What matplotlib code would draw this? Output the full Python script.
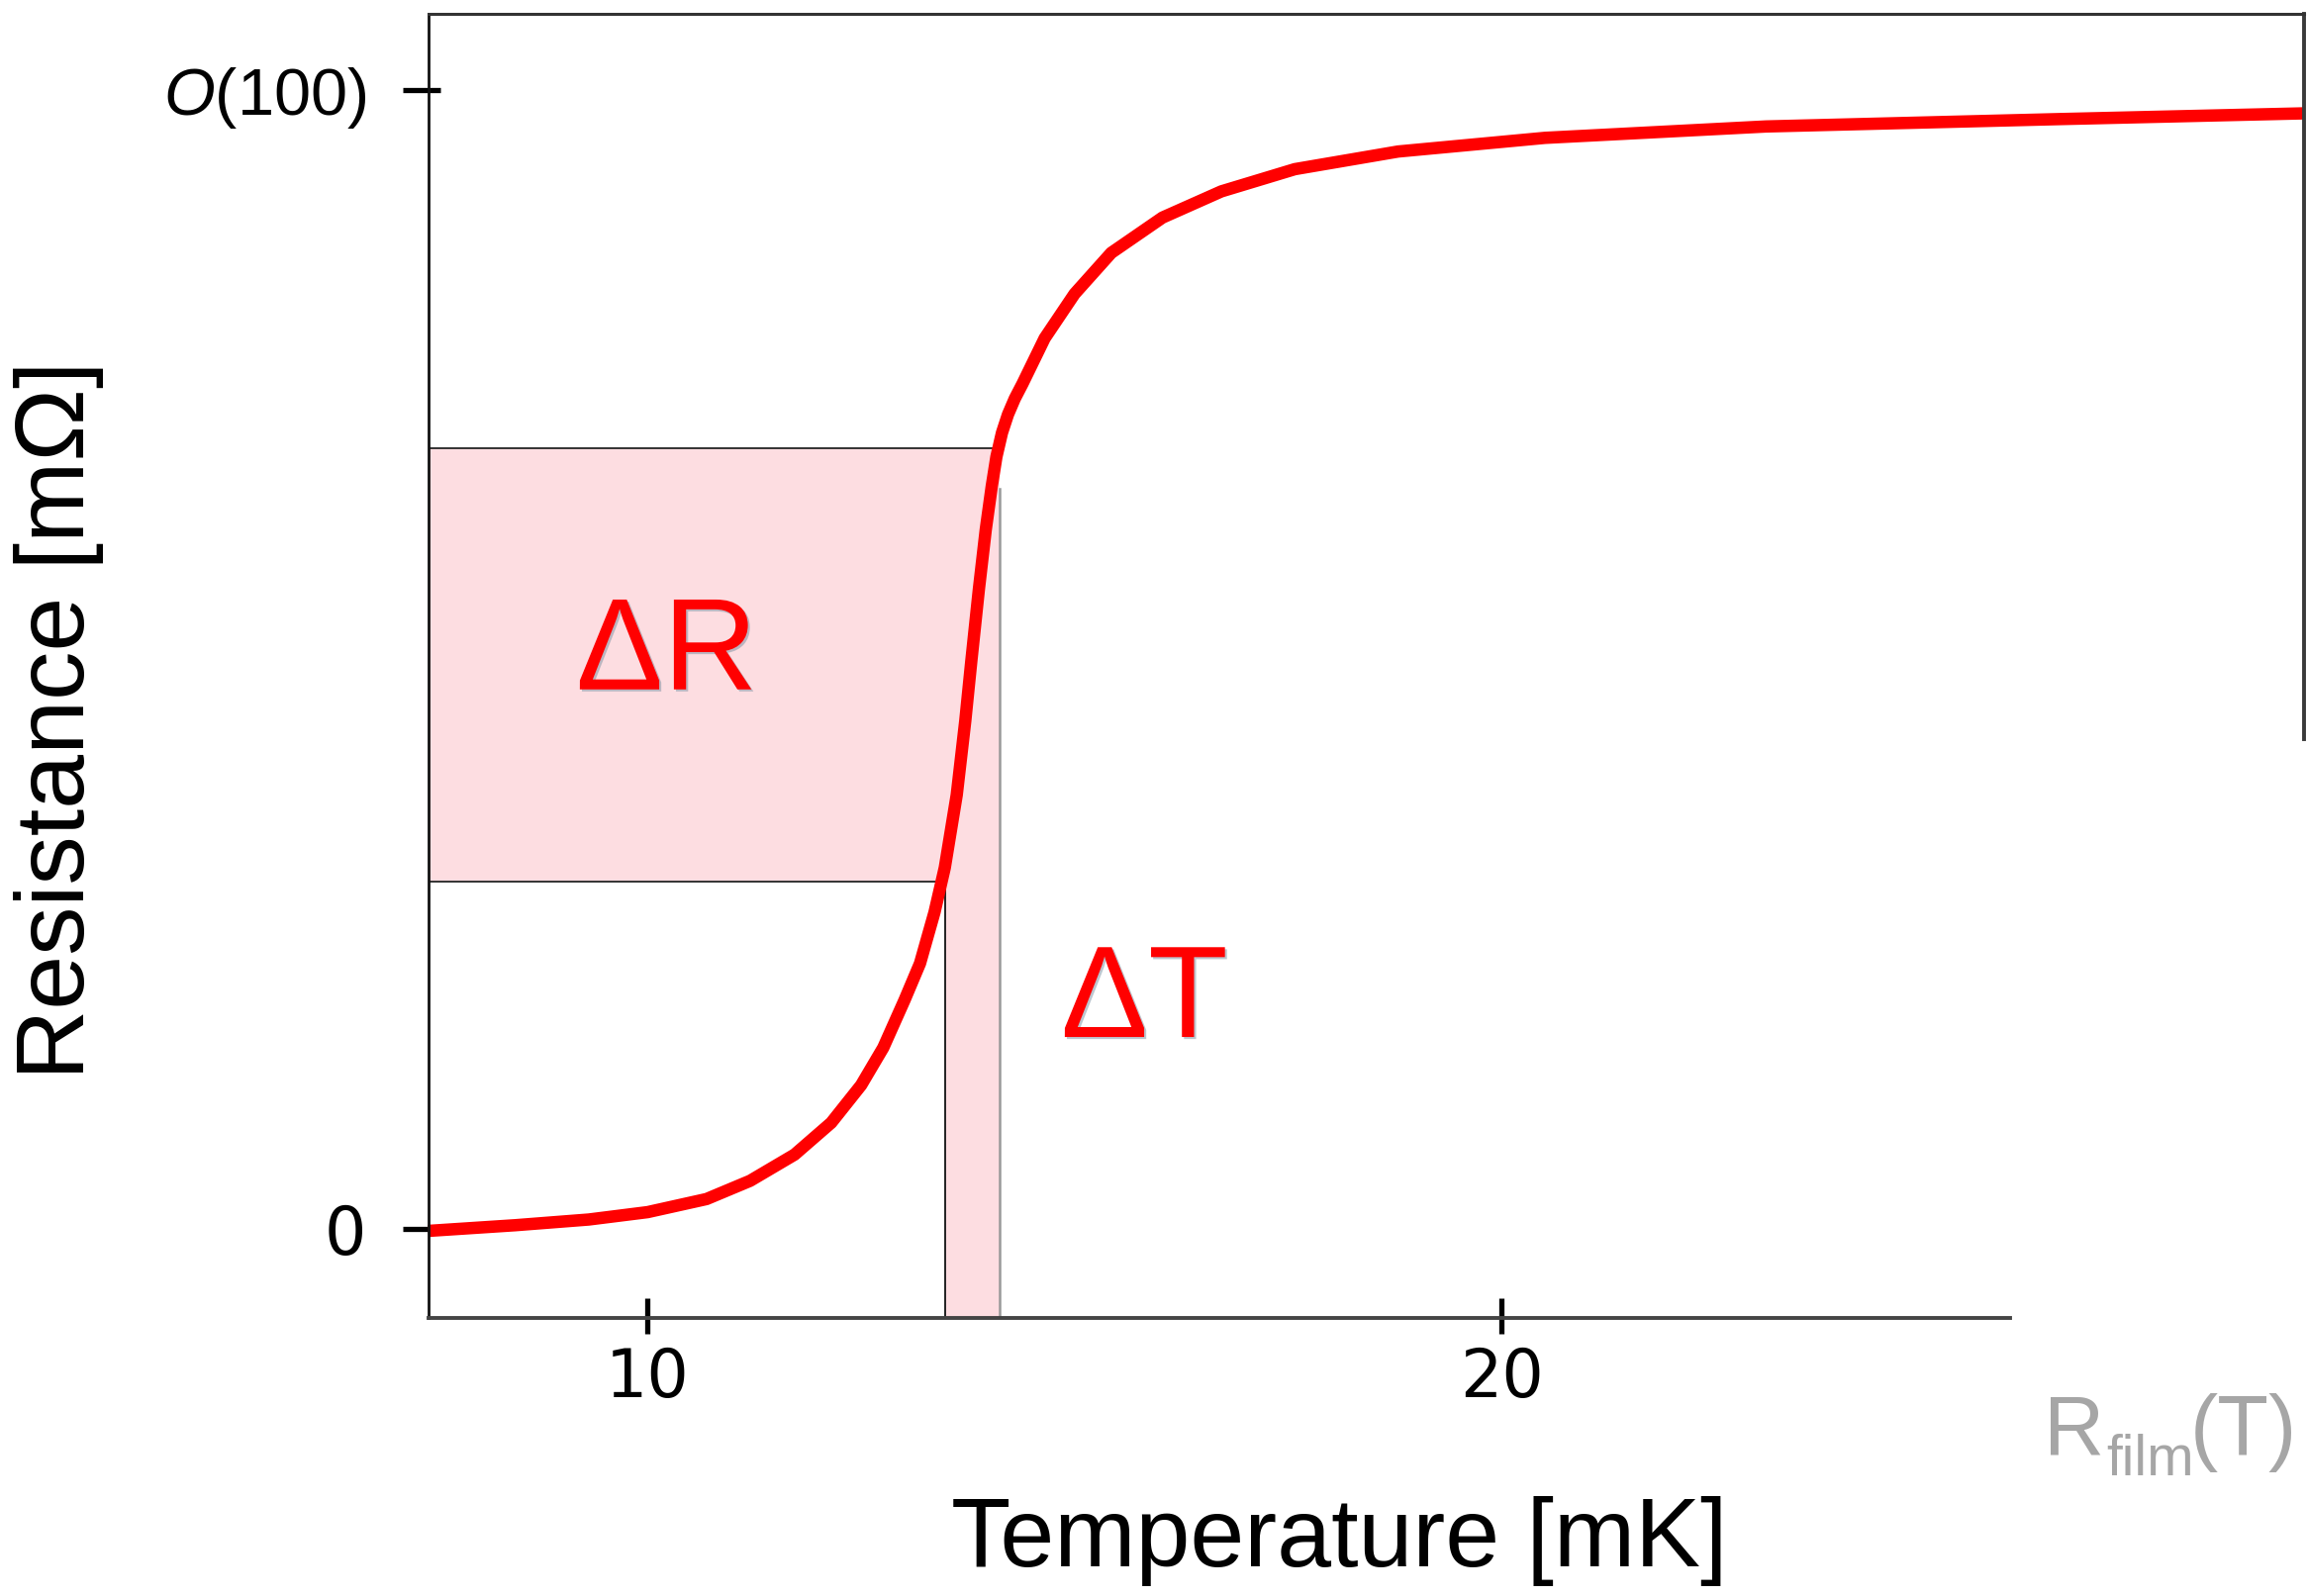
import matplotlib
matplotlib.use("Agg")
import matplotlib.pyplot as plt
import matplotlib.patheffects as pe
from matplotlib.ticker import FixedLocator

plt.rcParams['mathtext.fontset'] = 'custom'
plt.rcParams['mathtext.rm'] = 'Liberation Sans'
plt.rcParams['mathtext.it'] = 'Liberation Sans:italic'

# ---- data ----
T_curve = [7.43, 8.45, 9.31, 10.0, 10.69, 11.2, 11.72, 12.15, 12.5, 12.76,
           13.01, 13.19, 13.36, 13.48, 13.62, 13.72, 13.79, 13.88, 13.96, 14.03,
           14.085, 14.15, 14.22, 14.3, 14.39, 14.65, 15.0, 15.43, 16.03, 16.72,
           17.58, 18.79, 20.51, 23.1, 26.55, 29.39]
R_curve = [-0.2, 0.3, 0.8, 1.45, 2.6, 4.2, 6.5, 9.3, 12.6, 15.9,
           20.1, 23.3, 27.8, 31.7, 38.1, 44.6, 49.8, 56.2, 61.4, 65.2,
           67.8, 69.9, 71.5, 72.9, 74.2, 78.2, 82.1, 85.7, 88.8, 91.1,
           93.05, 94.6, 95.8, 96.8, 97.45, 97.95]

dR_low, dR_high = 30.5, 68.54      # ΔR band (mΩ)
dT_low, dT_high = 13.486, 14.12    # ΔT band (mK)

x_ticks = [10, 20]
x_ticklabels = ['10', '20']
y_ticks = [0, 100]
y_ticklabels = ['0', r'$O(100)$']

xlim = (7.437, 29.40)
ylim = (-7.82, 106.69)

W, H = 2331, 1613
fig = plt.figure(figsize=(W / 100, H / 100), dpi=100)
ax = fig.add_axes([433.3 / W, 1 - 1331.7 / H, (2328 - 433.3) / W, (1331.7 - 14) / H])
ax.set_xlim(*xlim)
ax.set_ylim(*ylim)

pink = '#fddde1'
# ΔR band and ΔT column
ax.fill_between([xlim[0], dT_high], dR_low, dR_high, color=pink, lw=0, zorder=1)
ax.fill_between([dT_low, dT_high], ylim[0], dR_low, color=pink, lw=0, zorder=1)

# outline lines
ax.plot([xlim[0], 14.085], [dR_high, dR_high], color='#333333', lw=1.4, zorder=2)
ax.plot([xlim[0], 13.43], [dR_low, dR_low], color='#333333', lw=1.4, zorder=2)
ax.plot([dT_low, dT_low], [ylim[0], 30.0], color='#222222', lw=1.4, zorder=2)
ax.plot([dT_high, dT_high], [ylim[0], 65.0], color='#999999', lw=1.8, zorder=2)

# curve
ax.plot(T_curve, R_curve, color='#ff0000', lw=9, solid_capstyle='butt',
        solid_joinstyle='round', zorder=3, clip_on=False)

# spines
for s in ['left', 'right', 'top', 'bottom']:
    ax.spines[s].set_zorder(4)
ax.spines['left'].set_linewidth(2.0)
ax.spines['left'].set_color('#111111')
ax.spines['top'].set_linewidth(2.2)
ax.spines['top'].set_color('#333333')
ax.spines['right'].set_linewidth(2.8)
ax.spines['right'].set_color('#3a3a3a')
ax.spines['right'].set_bounds(43.0, ylim[1])
ax.spines['bottom'].set_linewidth(2.8)
ax.spines['bottom'].set_color('#444444')
ax.spines['bottom'].set_bounds(xlim[0], 25.96)

# ticks (asymmetric: major outward part, minor inward part)
ax.xaxis.remove_overlapping_locs = False
ax.yaxis.remove_overlapping_locs = False
ax.xaxis.set_major_locator(FixedLocator(x_ticks))
ax.xaxis.set_minor_locator(FixedLocator(x_ticks))
ax.yaxis.set_major_locator(FixedLocator(y_ticks))
ax.yaxis.set_minor_locator(FixedLocator(y_ticks))
ax.set_xticklabels(x_ticklabels)
ax.set_yticklabels(y_ticklabels)
ax.tick_params(axis='x', which='major', direction='out', length=11.7, width=3.8,
               pad=9, labelsize=48, color='black')
ax.tick_params(axis='x', which='minor', direction='in', length=14.2, width=3.8,
               labelbottom=False, color='black')
ax.tick_params(axis='y', which='major', direction='out', length=18.4, width=3.8,
               pad=27, labelsize=48, color='black')
ax.tick_params(axis='y', which='minor', direction='in', length=8.9, width=3.8,
               labelleft=False, color='black')
for lab in ax.get_xticklabels() + ax.get_yticklabels():
    lab.set_fontfamily('DejaVu Sans')

# annotations
shadow = [pe.SimplePatchShadow(offset=(1.5, -1.5), shadow_rgbFace='#7a8fa0', alpha=0.5),
          pe.Normal()]
ax.text(9.16, 47.36, 'ΔR', color='#ff0000', fontsize=95, family='Liberation Sans',
        ha='left', va='baseline', zorder=5, path_effects=shadow)
ax.text(14.84, 16.83, 'ΔT', color='#ff0000', fontsize=95, family='Liberation Sans',
        ha='left', va='baseline', zorder=5, path_effects=shadow)

# axis labels
fig.text(60 / W, 1 - 728 / H, 'Resistance [mΩ]', rotation=90, fontsize=71,
         family='Liberation Sans', ha='center', va='center')
fig.text(1353 / W, 1 - 1583 / H, 'Temperature [mK]', fontsize=71,
         family='Liberation Sans', ha='center', va='baseline')

# R_film(T) caption
grey = '#a6a6a6'
fig.text(2065 / W, 1 - 1470 / H, 'R', fontsize=61, color=grey,
         family='Liberation Sans', ha='left', va='baseline')
fig.text(2128 / W, 1 - 1491 / H, 'film', fontsize=41, color=grey,
         family='Liberation Sans', ha='left', va='baseline')
fig.text(2213 / W, 1 - 1470 / H, '(T)', fontsize=61, color=grey,
         family='Liberation Sans', ha='left', va='baseline')

fig.savefig('out.png', dpi=100)
